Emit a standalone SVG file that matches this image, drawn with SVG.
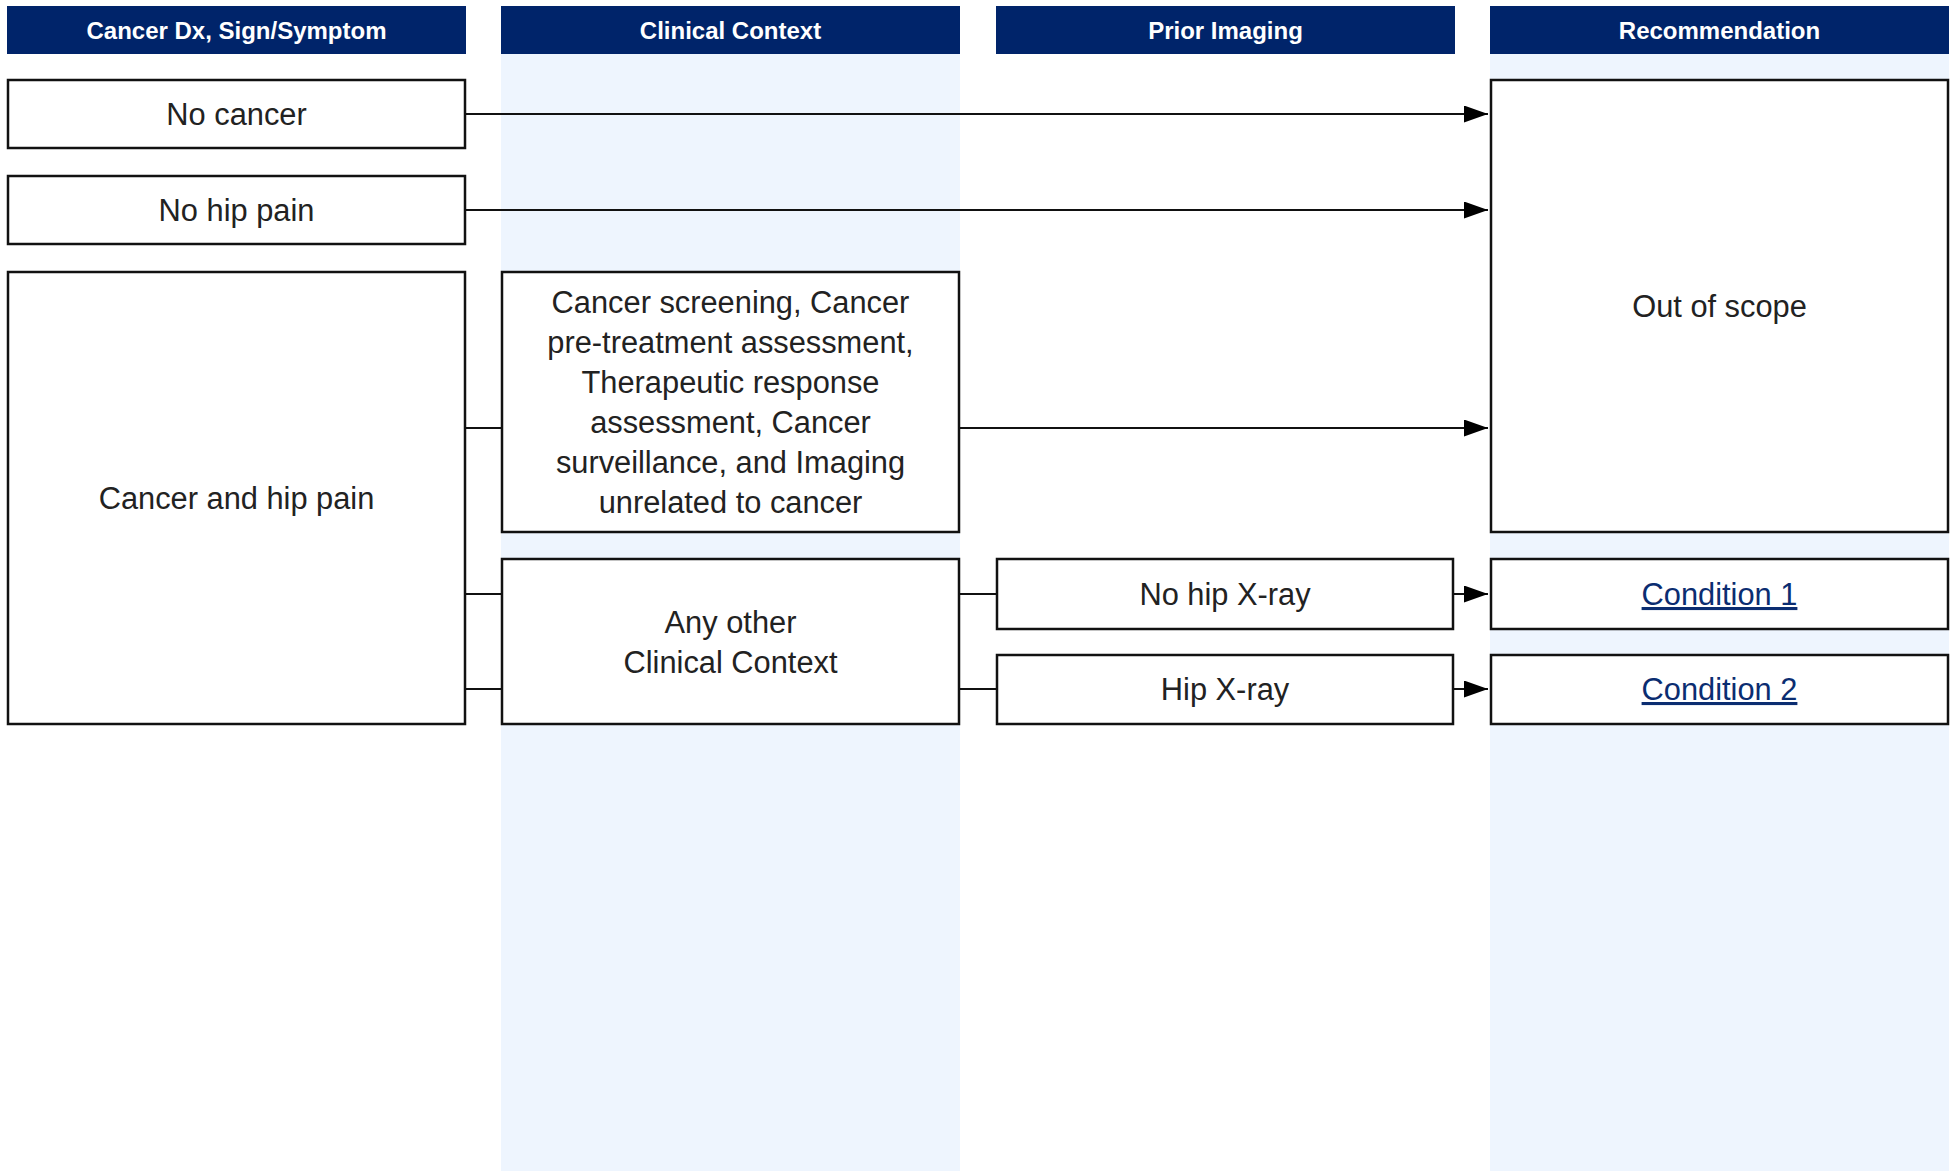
<svg xmlns="http://www.w3.org/2000/svg" width="1953" height="1171" viewBox="0 0 1953 1171">
<style>
.hdr{fill:#00246A}
.ht{fill:#fff;font-family:"Liberation Sans",Arial,sans-serif;font-weight:bold;font-size:24px;text-anchor:middle}
.lane{fill:#EEF5FE}
.box{fill:#fff;stroke:#111;stroke-width:2.5}
.t{fill:#222;font-family:"Liberation Sans",Arial,sans-serif;font-size:30.8px;text-anchor:middle}
.lk{fill:#0B2D71;text-decoration:underline}
.c{fill:none;stroke:#111;stroke-width:2.2}
</style>
<defs>
<marker id="ah" viewBox="0 0 24 17" refX="24" refY="8.5" markerWidth="24" markerHeight="17" markerUnits="userSpaceOnUse" orient="auto">
<path d="M0,0 L24,8.5 L0,17 Z" fill="#000"/>
</marker>
</defs>
<rect width="1953" height="1171" fill="#fff"/>
<g id="lanes">
<rect class="lane" x="501" y="54" width="459" height="1117"/>
<rect class="lane" x="1490" y="54" width="459" height="1117"/>
</g>
<g id="headers">
<rect class="hdr" x="7" y="6" width="459" height="48"/>
<text class="ht" x="236.5" y="39">Cancer Dx, Sign/Symptom</text>
<rect class="hdr" x="501" y="6" width="459" height="48"/>
<text class="ht" x="730.5" y="39">Clinical Context</text>
<rect class="hdr" x="996" y="6" width="459" height="48"/>
<text class="ht" x="1225.5" y="39">Prior Imaging</text>
<rect class="hdr" x="1490" y="6" width="459" height="48"/>
<text class="ht" x="1719.5" y="39">Recommendation</text>
</g>
<g id="connectors">
<path class="c" d="M465,114 H1488" marker-end="url(#ah)"/>
<path class="c" d="M465,210 H1488" marker-end="url(#ah)"/>
<path class="c" d="M465,428 H502"/>
<path class="c" d="M959,428 H1488" marker-end="url(#ah)"/>
<path class="c" d="M465,594 H502"/>
<path class="c" d="M465,689 H502"/>
<path class="c" d="M959,594 H997"/>
<path class="c" d="M959,689 H997"/>
<path class="c" d="M1453,594 H1488" marker-end="url(#ah)"/>
<path class="c" d="M1453,689 H1488" marker-end="url(#ah)"/>
</g>
<g id="no-cancer">
<rect class="box" x="8" y="80" width="457" height="68"/>
<text class="t" x="236.5" y="125">No cancer</text>
</g>
<g id="no-hip-pain">
<rect class="box" x="8" y="176" width="457" height="68"/>
<text class="t" x="236.5" y="221">No hip pain</text>
</g>
<g id="cancer-hip-pain">
<rect class="box" x="8" y="272" width="457" height="452"/>
<text class="t" x="236.5" y="509">Cancer and hip pain</text>
</g>
<g id="cancer-contexts">
<rect class="box" x="502" y="272" width="457" height="260"/>
<text class="t" x="730.5" y="313">Cancer screening, Cancer</text>
<text class="t" x="730.5" y="353">pre-treatment assessment,</text>
<text class="t" x="730.5" y="393">Therapeutic response</text>
<text class="t" x="730.5" y="433">assessment, Cancer</text>
<text class="t" x="730.5" y="473">surveillance, and Imaging</text>
<text class="t" x="730.5" y="513">unrelated to cancer</text>
</g>
<g id="other-context">
<rect class="box" x="502" y="559" width="457" height="165"/>
<text class="t" x="730.5" y="633">Any other</text>
<text class="t" x="730.5" y="673">Clinical Context</text>
</g>
<g id="no-hip-xray">
<rect class="box" x="997" y="559" width="456" height="70"/>
<text class="t" x="1225" y="605">No hip X-ray</text>
</g>
<g id="hip-xray">
<rect class="box" x="997" y="655" width="456" height="69"/>
<text class="t" x="1225" y="700">Hip X-ray</text>
</g>
<g id="out-of-scope">
<rect class="box" x="1491" y="80" width="457" height="452"/>
<text class="t" x="1719.5" y="317">Out of scope</text>
</g>
<g id="condition-1">
<rect class="box" x="1491" y="559" width="457" height="70"/>
<text class="t lk" x="1719.5" y="605">Condition 1</text>
</g>
<g id="condition-2">
<rect class="box" x="1491" y="655" width="457" height="69"/>
<text class="t lk" x="1719.5" y="700">Condition 2</text>
</g>
</svg>
